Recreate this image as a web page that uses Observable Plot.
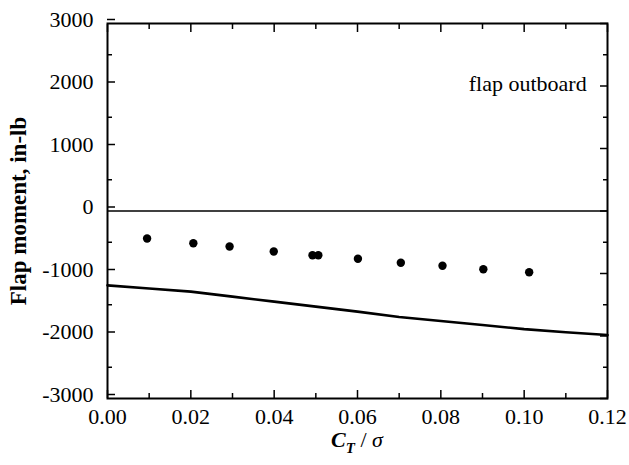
<!DOCTYPE html>
<html><head><meta charset="utf-8">
<script src="https://cdn.jsdelivr.net/npm/d3@7"></script>
<script src="https://cdn.jsdelivr.net/npm/@observablehq/plot@0.6"></script>
<style>
body{margin:0;background:#fff;}
svg{overflow:visible}
svg text{font-family:'Liberation Serif','Times New Roman',serif !important;}
</style></head><body><div id="chart"></div>
<script>
// Solid line (prediction)
const lineCT = [0.00, 0.01, 0.02, 0.03, 0.04, 0.05, 0.06, 0.07, 0.08, 0.09, 0.10, 0.11, 0.12];
const lineMoment = [-1190, -1240, -1290, -1370, -1450, -1530, -1610, -1695, -1760, -1825, -1890, -1940, -1985];
// Measured points
const dotCT = [0.0095, 0.0206, 0.0293, 0.0399, 0.0492, 0.0506, 0.0601, 0.0704, 0.0804, 0.0902, 0.1012];
const dotMoment = [-440, -515, -568, -648, -707, -707, -765, -829, -877, -931, -979];
// Ticks
const xMajorTicks = [0, 0.02, 0.04, 0.06, 0.08, 0.10, 0.12];
const xMinorTicks = [0.01, 0.03, 0.05, 0.07, 0.09, 0.11];
const yMajorTicks = [-3000, -2000, -1000, 0, 1000, 2000, 3000];
const yMinorTicks = [-2500, -1500, -500, 500, 1500, 2500];
// Annotation & titles
const annotationText = ["flap outboard"];
const annotationX = [0.115];
const annotationY = [2000];
const yTitle = "Flap moment, in-lb";

const lineData = lineCT.map((x, i) => ({x, y: lineMoment[i]}));
const dotData = dotCT.map((x, i) => ({x, y: dotMoment[i]}));
const annData = annotationText.map((t, i) => ({t, x: annotationX[i], y: annotationY[i]}));
const hyphen = d => String(d).replace("\u2212", "-");

const W = 629, H = 465;
const chart = Plot.plot({
  width: W, height: H,
  marginLeft: 107, marginRight: 22, marginTop: 23, marginBottom: 67,
  style: {fontFamily: "'Liberation Serif', 'Times New Roman', serif", fontSize: "22px", background: "white", color: "black"},
  x: {domain: [0, 0.12]},
  y: {domain: [-3000, 3000]},
  marks: [
    Plot.ruleY([0], {stroke: "black", strokeWidth: 1.3}),
    Plot.line(lineData, {x: "x", y: "y", stroke: "black", strokeWidth: 2.6}),
    Plot.dot(dotData, {x: "x", y: "y", r: 4.2, fill: "black", stroke: null}),
    Plot.text(annData, {x: "x", y: "y", text: "t", textAnchor: "end", dy: -2, fontSize: 22}),
    // major axes
    Plot.axisX(xMajorTicks, {anchor: "bottom", tickSize: -8, tickPadding: 18, strokeWidth: 1.5, tickFormat: d3.format(".2f"), label: null}),
    Plot.axisX(xMajorTicks, {anchor: "top", tickSize: -8, strokeWidth: 1.5, text: null, label: null}),
    Plot.axisX(xMinorTicks, {anchor: "bottom", tickSize: -5, strokeWidth: 1.5, text: null, label: null}),
    Plot.axisX(xMinorTicks, {anchor: "top", tickSize: -5, strokeWidth: 1.5, text: null, label: null}),
    Plot.axisY(yMajorTicks, {anchor: "left", tickSize: -8, tickPadding: 22, strokeWidth: 1.5, dy: -4, tickFormat: hyphen, label: null}),
    Plot.axisY(yMajorTicks, {anchor: "right", tickSize: -8, strokeWidth: 1.5, text: null, label: null}),
    Plot.axisY(yMinorTicks, {anchor: "left", tickSize: -5, strokeWidth: 1.5, text: null, label: null}),
    Plot.axisY(yMinorTicks, {anchor: "right", tickSize: -5, strokeWidth: 1.5, text: null, label: null}),
    Plot.text([yTitle], {frameAnchor: "left", dx: -89, rotate: -90, textAnchor: "middle", lineAnchor: "middle", text: d => d, fontWeight: "bold", fontSize: 23}),
    Plot.frame({stroke: "black", strokeWidth: 2})
  ]
});
document.getElementById("chart").appendChild(chart);

// x-axis title with subscript: C_T / σ
const xs = chart.scale("x");
const cx = (xs.range[0] + xs.range[1]) / 2;
const svg = d3.select(chart);
const t = svg.append("text")
  .attr("x", cx).attr("y", 447)
  .attr("text-anchor", "middle")
  .attr("font-size", 22)
  .attr("fill", "black");
t.append("tspan").attr("font-weight", "bold").attr("font-style", "italic").text("C");
t.append("tspan").attr("font-weight", "bold").attr("font-style", "italic").attr("font-size", 15).attr("dy", 6).text("T");
t.append("tspan").attr("dy", -6).text(" / ");
t.append("tspan").attr("font-style", "italic").text("σ");
</script></body></html>
